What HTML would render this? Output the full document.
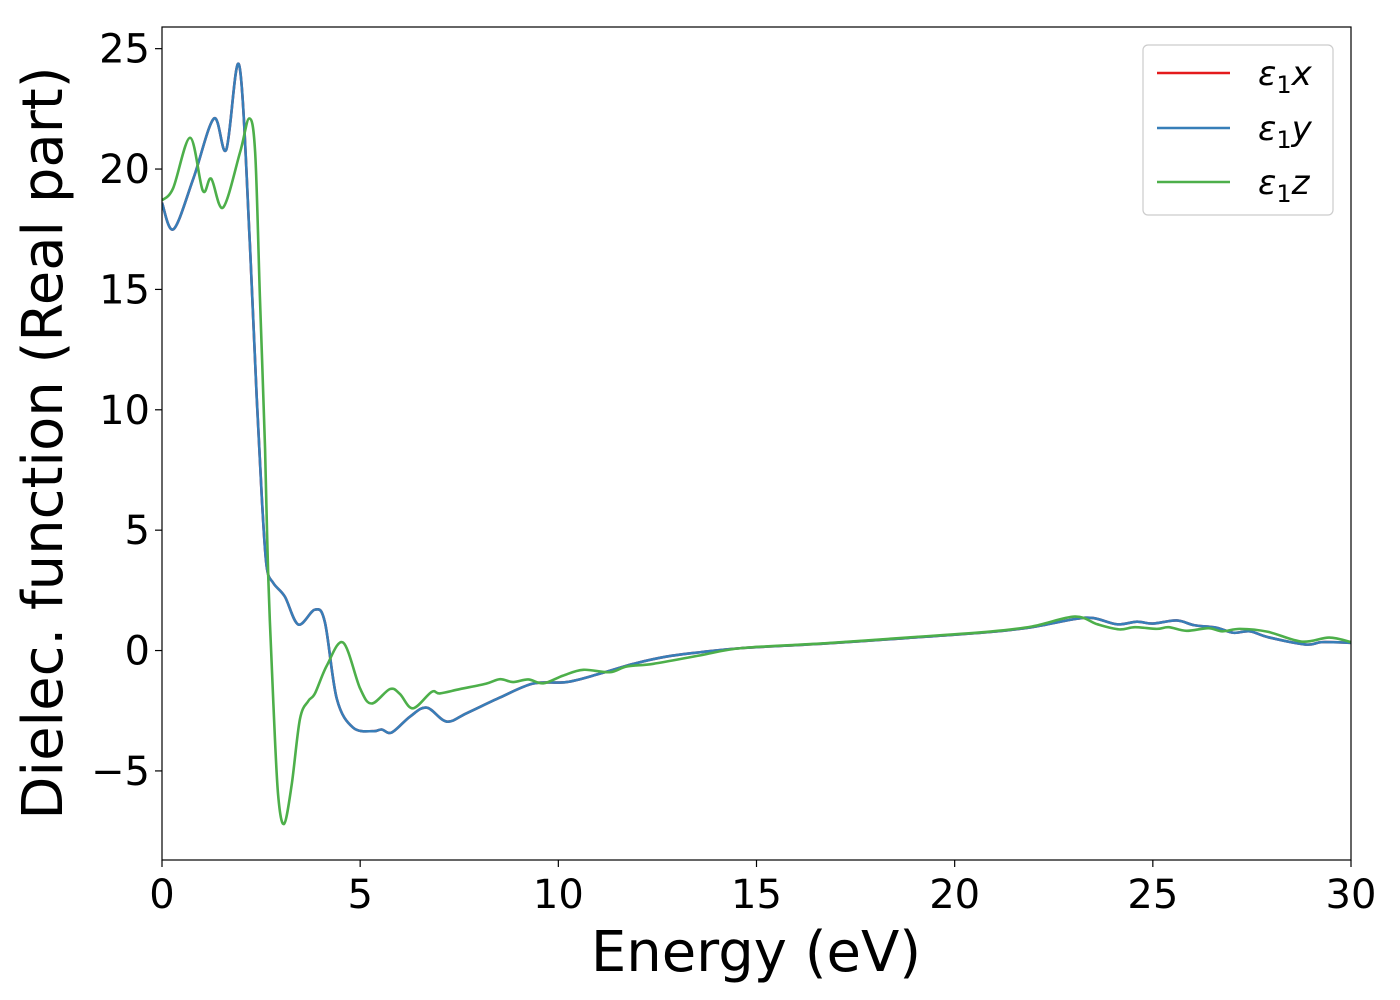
<!DOCTYPE html>
<html><head><meta charset="utf-8"><style>
body{margin:0;background:#fff}
svg{display:block;font-family:"DejaVu Sans","Liberation Sans",sans-serif}
</style></head><body>
<svg id="chart" width="1400" height="1000" xmlns="http://www.w3.org/2000/svg">
<g id="plot"></g>
</svg>
<script>
const xTicks=[0,5,10,15,20,25,30];
const yTicks=[-5,0,5,10,15,20,25];
const xyE=[0,0.29,0.79,1.31,1.62,1.95,2.22,2.39,2.52,2.64,2.81,3.1,3.44,3.86,4.11,4.41,4.82,5.33,5.54,5.8,6.26,6.68,7.18,7.69,8.53,9.37,10.21,11.05,11.9,12.73,13.58,14.62,16.72,18.8,20.9,21.95,23.0,23.5,24.1,24.6,25.0,25.6,26.05,26.6,27.03,27.45,27.92,28.86,29.27,30];
const xyV=[18.6,17.5,19.6,22.1,20.8,24.3,16.8,10.5,6.3,3.5,2.8,2.24,1.08,1.7,1.18,-2.0,-3.2,-3.35,-3.28,-3.4,-2.74,-2.37,-2.95,-2.6,-1.95,-1.37,-1.31,-0.96,-0.55,-0.25,-0.07,0.1,0.29,0.52,0.77,0.97,1.3,1.35,1.09,1.2,1.12,1.25,1.05,0.95,0.74,0.8,0.55,0.25,0.35,0.32];
const zE=[0,0.28,0.71,1.03,1.24,1.54,1.97,2.2,2.35,2.47,2.6,2.68,2.81,2.93,3.08,3.27,3.48,3.69,3.86,4.16,4.57,5.0,5.29,5.75,6.0,6.33,6.8,7.01,7.52,8.17,8.53,8.86,9.24,9.62,10.12,10.63,11.3,11.73,12.4,13.58,14.62,16.72,18.8,20.9,21.95,23.03,23.6,24.15,24.55,25.1,25.4,25.85,26.4,26.75,27.2,27.9,28.76,29.45,30];
const zV=[18.7,19.2,21.3,19.1,19.6,18.4,20.7,22.1,20.7,14.7,8.4,3.1,-2.2,-6.0,-7.2,-5.6,-2.85,-2.1,-1.78,-0.62,0.33,-1.58,-2.2,-1.6,-1.8,-2.4,-1.72,-1.78,-1.6,-1.38,-1.19,-1.31,-1.2,-1.36,-1.04,-0.8,-0.9,-0.66,-0.55,-0.2,0.1,0.3,0.54,0.79,1.0,1.41,1.09,0.88,0.97,0.9,0.97,0.82,0.93,0.8,0.9,0.78,0.37,0.54,0.35];
const L=162,R=1351,T=27,B=860,xMin=0,xMax=30,yMin=-8.7,yMax=25.9;
const sx=v=>L+(v-xMin)/(xMax-xMin)*(R-L);
const sy=v=>B-(v-yMin)/(yMax-yMin)*(B-T);
const NS="http://www.w3.org/2000/svg";
const g=document.getElementById('plot');
function mk(t,a,p){const e=document.createElementNS(NS,t);for(const k in a)e.setAttribute(k,a[k]);(p||g).appendChild(e);return e;}
function path(E,V){const P=E.map((e,i)=>[sx(e),sy(V[i])]);let d=`M${P[0][0]},${P[0][1]}`;
for(let i=0;i<P.length-1;i++){const p0=P[i-1]||P[i],p1=P[i],p2=P[i+1],p3=P[i+2]||P[i+1];
d+=` C${p1[0]+(p2[0]-p0[0])/6},${p1[1]+(p2[1]-p0[1])/6} ${p2[0]-(p3[0]-p1[0])/6},${p2[1]-(p3[1]-p1[1])/6} ${p2[0]},${p2[1]}`;}return d;}
const defs=mk('defs',{});const cp=mk('clipPath',{id:'cp'},defs);mk('rect',{x:L,y:T,width:R-L,height:B-T},cp);
const series=[[xyE,xyV,'#e41a1c','line-eps1x'],[xyE,xyV,'#377eb8','line-eps1y'],[zE,zV,'#4daf4a','line-eps1z']];
series.forEach(s=>{const p=mk('path',{d:path(s[0],s[1]),fill:'none',stroke:s[2],'stroke-width':2.6,'clip-path':'url(#cp)'});

});
const fr=mk('rect',{x:L,y:T,width:R-L,height:B-T,fill:'none',stroke:'#000','stroke-width':1.2});


xTicks.forEach(v=>{const x=sx(v);const t=mk('line',{x1:x,x2:x,y1:B,y2:B+7,stroke:'#000','stroke-width':1.2});


const l=mk('text',{x:x,y:B+48,'text-anchor':'middle','font-size':40});l.textContent=v;

});
yTicks.forEach(v=>{const y=sy(v);const t=mk('line',{x1:L-7,x2:L,y1:y,y2:y,stroke:'#000','stroke-width':1.2});


const l=mk('text',{x:L-12,y:y+14,'text-anchor':'end','font-size':40});l.textContent=v<0?'\u2212'+(-v):v;

});
const xl=mk('text',{x:756,y:971,'text-anchor':'middle','font-size':56});xl.textContent='Energy (eV)';


const yl=mk('text',{x:0,y:0,'text-anchor':'middle','font-size':56,transform:'translate(62,443) rotate(-90)'});yl.textContent='Dielec. function (Real part)';


const lg=mk('g',{});


mk('rect',{x:1143,y:45,width:190,height:170,rx:5,fill:'#fff',stroke:'#ccc','stroke-width':1.2},lg);
[['x','#e41a1c',73],['y','#377eb8',128],['z','#4daf4a',182]].forEach(e=>{
const ln=mk('line',{x1:1157,x2:1230,y1:e[2],y2:e[2],stroke:e[1],'stroke-width':2.6},lg);


const tx=mk('text',{x:1258,y:e[2]+12,'font-size':34,'font-style':'italic'},lg);
tx.innerHTML='\u03b5<tspan font-style="normal" font-size="24" dy="8">1</tspan><tspan dy="-8">'+e[0]+'</tspan>';

});
</script>
</body></html>
